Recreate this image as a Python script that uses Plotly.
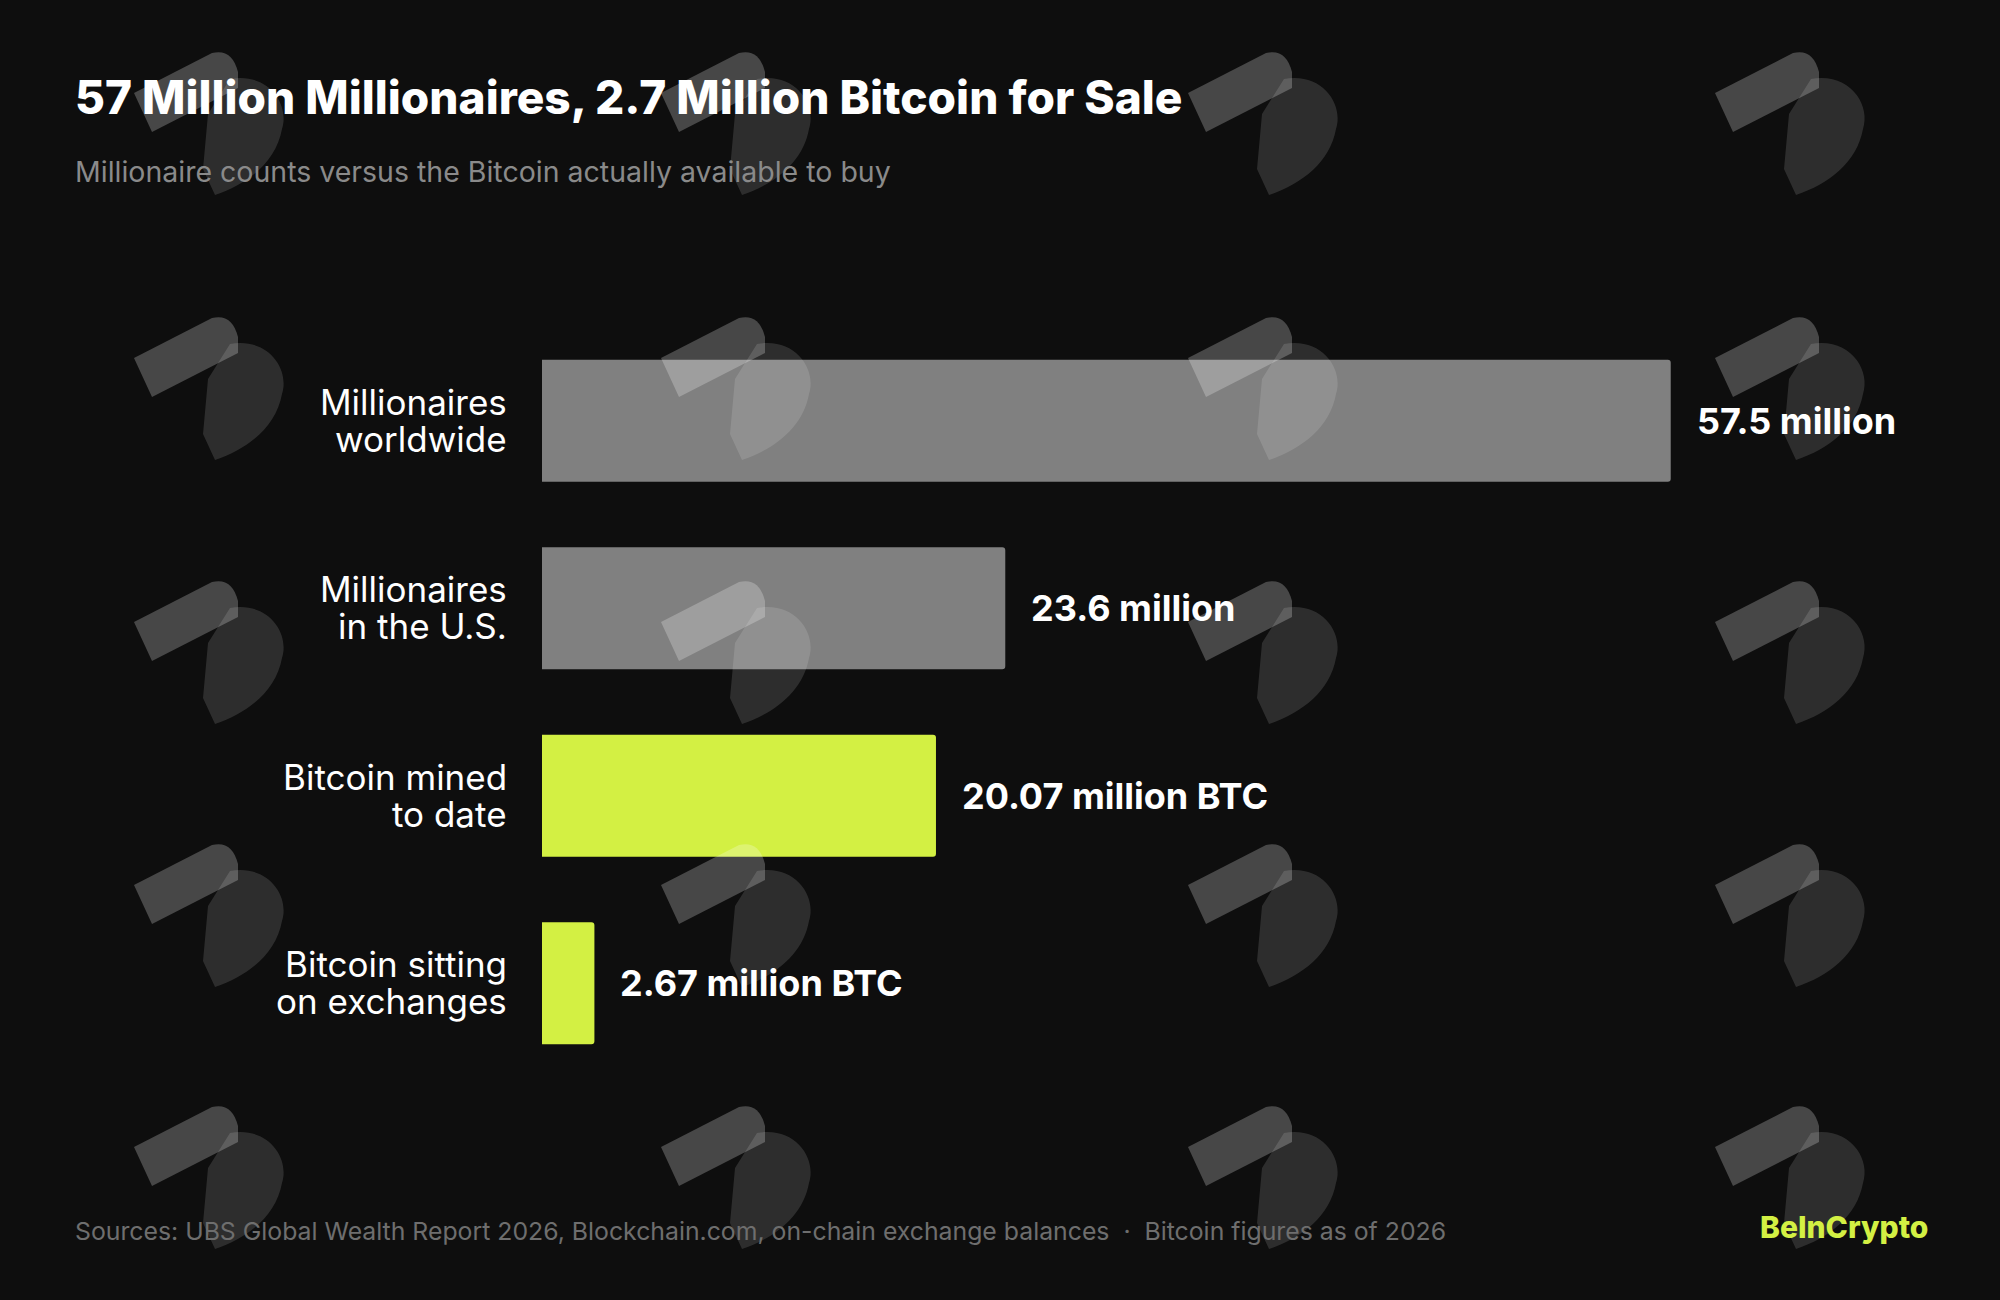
import plotly.graph_objects as go

# ---------------- data ----------------
cat_line1 = ["Millionaires", "Millionaires", "Bitcoin mined", "Bitcoin sitting"]
cat_line2 = ["worldwide", "in the U.S.", "to date", "on exchanges"]
categories = [a + " " + b for a, b in zip(cat_line1, cat_line2)]
values = [57.5, 23.6, 20.07, 2.67]
value_labels = ["57.5 million", "23.6 million", "20.07 million BTC", "2.67 million BTC"]
groups = ["people", "people", "btc", "btc"]

title = "57 Million Millionaires, 2.7 Million Bitcoin for Sale"
subtitle = "Millionaire counts versus the Bitcoin actually available to buy"
footer = "Sources: UBS Global Wealth Report 2026, Blockchain.com, on-chain exchange balances  \u00b7  Bitcoin figures as of 2026"
brand = "BeInCrypto"

# ---------------- style ----------------
W, H = 2000, 1300
ML, MR, MT, MB = 542, 84, 327, 223
BG = "#0e0e0e"
GRAY = "#808080"
LIME = "#d3f043"
FONT = "Inter"
colors = [GRAY if g == "people" else LIME for g in groups]

PW = W - ML - MR
PH = H - MT - MB


def px_x(X):
    return (X - ML) / PW


def px_y(Y):
    return (H - MB - Y) / PH


fig = go.Figure()
fig.add_trace(go.Bar(
    x=values, y=categories, orientation="h", width=0.65,
    marker=dict(color=colors, line=dict(width=0), cornerradius=3),
    hoverinfo="skip", showlegend=False,
))

annotations = []
for c, l1, l2, v, t in zip(categories, cat_line1, cat_line2, values, value_labels):
    annotations.append(dict(x=0, y=c, xref="x", yref="y", text=l1, showarrow=False,
                            xanchor="right", yanchor="middle", xshift=-33, yshift=19,
                            font=dict(family=FONT, size=35, color="#ffffff")))
    annotations.append(dict(x=0, y=c, xref="x", yref="y", text=l2, showarrow=False,
                            xanchor="right", yanchor="middle", xshift=-33, yshift=-18,
                            font=dict(family=FONT, size=35, color="#ffffff")))
    annotations.append(dict(x=v, y=c, xref="x", yref="y", text=t, showarrow=False,
                            xanchor="left", yanchor="middle", xshift=24,
                            font=dict(family=FONT, size=36, color="#ffffff", weight=700)))

annotations += [
    dict(x=px_x(73), y=px_y(97), xref="paper", yref="paper", text=title,
         showarrow=False, xanchor="left", yanchor="middle",
         font=dict(family=FONT, size=46, color="#ffffff", weight=800)),
    dict(x=px_x(73), y=px_y(172), xref="paper", yref="paper", text=subtitle,
         showarrow=False, xanchor="left", yanchor="middle",
         font=dict(family=FONT, size=28.5, color="#8a8a8a")),
    dict(x=px_x(73), y=px_y(1231), xref="paper", yref="paper", text=footer,
         showarrow=False, xanchor="left", yanchor="middle",
         font=dict(family=FONT, size=24.8, color="#6e6e6e")),
    dict(x=px_x(1930), y=px_y(1227), xref="paper", yref="paper", text=brand,
         showarrow=False, xanchor="right", yanchor="middle",
         font=dict(family=FONT, size=30, color=LIME, weight=800)),
]

# ---------------- decorative watermark logos ----------------
band = "M -74,31 L 4,71 Q 24,76 30,52 L 30,36 L -56,-8 Z"
dshape = "M 22,45 C 60,52 82,20 74,-5 C 68,-38 40,-60 7,-71 L -5,-45 L 0,10 Z"
wm_cols = [208, 735, 1262, 1789]
wm_rows = [124, 389, 653, 916, 1178]
shapes = []
for X in wm_cols:
    for Y in wm_rows:
        for path, op in ((band, 0.24), (dshape, 0.13)):
            shapes.append(dict(type="path", path=path, xref="paper", yref="paper",
                               xsizemode="pixel", ysizemode="pixel",
                               xanchor=px_x(X), yanchor=px_y(Y),
                               fillcolor="rgba(255,255,255,%s)" % op,
                               line=dict(width=0), layer="above"))

fig.update_layout(
    width=W, height=H,
    margin=dict(l=ML, r=MR, t=MT, b=MB),
    paper_bgcolor=BG, plot_bgcolor=BG,
    xaxis=dict(range=[0, PW / 19.63], visible=False, fixedrange=True),
    yaxis=dict(categoryorder="array", categoryarray=categories,
               range=[len(categories) - 0.5, -0.5], visible=False, fixedrange=True),
    annotations=annotations,
    shapes=shapes,
    showlegend=False,
)

fig.write_html(
    "out.html",
    config={"displayModeBar": False},
    post_script="document.body.style.margin='0';document.body.style.background='#0e0e0e';",
)
